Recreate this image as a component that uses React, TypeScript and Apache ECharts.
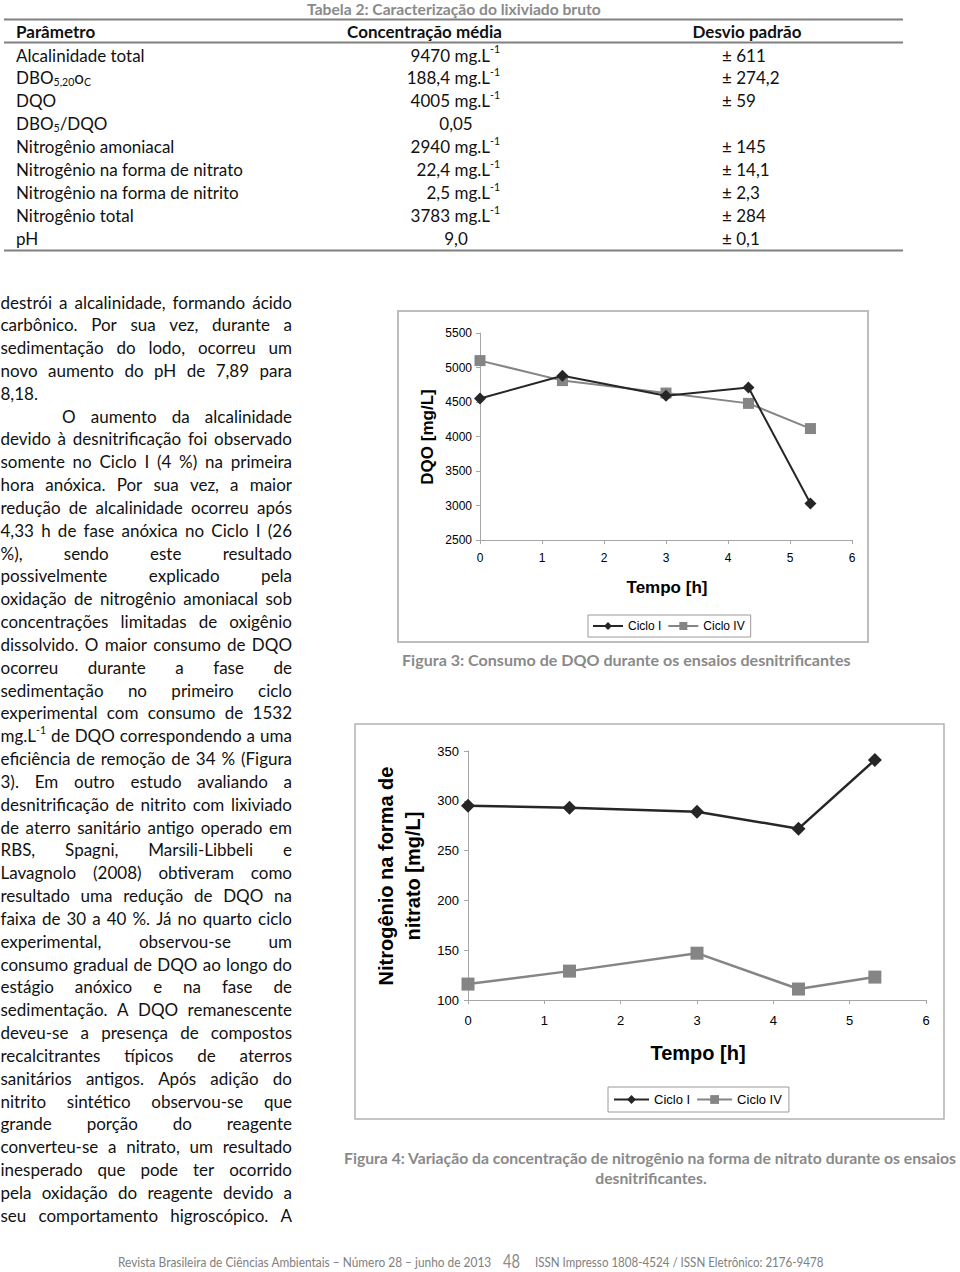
import React, { useEffect, useRef } from 'react';
import * as echarts from 'echarts';

// ---------------- DATA ----------------
const tempoH = [0, 1.33, 3, 4.33, 5.33];
const dqoCicloI = [4550, 4880, 4590, 4710, 3030];
const dqoCicloIV = [5100, 4810, 4630, 4480, 4115];
const nitratoCicloI = [295, 293, 289, 272, 341];
const nitratoCicloIV = [116, 129, 147, 111, 123];
const seriesNames = ['Ciclo I', 'Ciclo IV'];

const tableTitle = 'Tabela 2: Caracterização do lixiviado bruto';
const tableHeader = ['Parâmetro', 'Concentração média', 'Desvio padrão'];
const tableParams = [
  'Alcalinidade total',
  'DBO_{5,20}o_{C}',
  'DQO',
  'DBO_{5}/DQO',
  'Nitrogênio amoniacal',
  'Nitrogênio na forma de nitrato',
  'Nitrogênio na forma de nitrito',
  'Nitrogênio total',
  'pH',
];
const tableConc = ['9470', '188,4', '4005', '0,05', '2940', '22,4', '2,5', '3783', '9,0'];
const tableUnit = ['mg.L^{-1}', 'mg.L^{-1}', 'mg.L^{-1}', '', 'mg.L^{-1}', 'mg.L^{-1}', 'mg.L^{-1}', 'mg.L^{-1}', ''];
const tableDesvio = ['± 611', '± 274,2', '± 59', '', '± 145', '± 14,1', '± 2,3', '± 284', '± 0,1'];

const bodyLines = [
  'destrói a alcalinidade, formando ácido',
  'carbônico. Por sua vez, durante a',
  'sedimentação do lodo, ocorreu um',
  'novo aumento do pH de 7,89 para',
  '8,18.',
  'O aumento da alcalinidade',
  'devido à desnitrificação foi observado',
  'somente no Ciclo I (4 %) na primeira',
  'hora anóxica. Por sua vez, a maior',
  'redução de alcalinidade ocorreu após',
  '4,33 h de fase anóxica no Ciclo I (26',
  '%), sendo este resultado',
  'possivelmente explicado pela',
  'oxidação de nitrogênio amoniacal sob',
  'concentrações limitadas de oxigênio',
  'dissolvido. O maior consumo de DQO',
  'ocorreu durante a fase de',
  'sedimentação no primeiro ciclo',
  'experimental com consumo de 1532',
  'mg.L^{-1} de DQO correspondendo a uma',
  'eficiência de remoção de 34 % (Figura',
  '3). Em outro estudo avaliando a',
  'desnitrificação de nitrito com lixiviado',
  'de aterro sanitário antigo operado em',
  'RBS, Spagni, Marsili-Libbeli e',
  'Lavagnolo (2008) obtiveram como',
  'resultado uma redução de DQO na',
  'faixa de 30 a 40 %. Já no quarto ciclo',
  'experimental, observou-se um',
  'consumo gradual de DQO ao longo do',
  'estágio anóxico e na fase de',
  'sedimentação. A DQO remanescente',
  'deveu-se a presença de compostos',
  'recalcitrantes típicos de aterros',
  'sanitários antigos. Após adição do',
  'nitrito sintético observou-se que',
  'grande porção do reagente',
  'converteu-se a nitrato, um resultado',
  'inesperado que pode ter ocorrido',
  'pela oxidação do reagente devido a',
  'seu comportamento higroscópico. A',
];
const paragraphEnds = [4];
const paragraphStarts = [5];

const caption3 = 'Figura 3: Consumo de DQO durante os ensaios desnitrificantes';
const caption4a = 'Figura 4: Variação da concentração de nitrogênio na forma de nitrato durante os ensaios';
const caption4b = 'desnitrificantes.';
const dqoAxisName = 'DQO [mg/L]';
const nitratoAxisName = ['Nitrogênio na forma de', 'nitrato [mg/L]'];
const tempoAxisName = 'Tempo [h]';
const footerLeft = 'Revista Brasileira de Ciências Ambientais – Número 28 – junho de 2013';
const footerPage = '48';
const footerRight = 'ISSN Impresso 1808-4524 / ISSN Eletrônico: 2176-9478';

// ---------------- HELPERS ----------------
const BODY = 'Lato';
const ARIAL = '"Liberation Sans", Arial, sans-serif';
let _ctx: any = null;
function mw(text: string, font: string) {
  if (!_ctx) _ctx = document.createElement('canvas').getContext('2d');
  _ctx.font = font;
  return _ctx.measureText(text).width;
}
const fs = (size: number, fam: string, weight = 'normal') => `${weight} ${size}px ${fam}`;

function T(x: number, y: number, text: string, font: string, fill: string, align = 'left', extra: any = {}) {
  return {
    type: 'text',
    x,
    y,
    silent: true,
    ...extra,
    style: { text, font, fill, textAlign: align, textVerticalAlign: 'middle' },
  };
}

function parseRich(s: string) {
  const parts: { t: string; k: string }[] = [];
  const re = /([_^])\{([^}]*)\}/g;
  let last = 0;
  let m: any;
  while ((m = re.exec(s))) {
    if (m.index > last) parts.push({ t: s.slice(last, m.index), k: 'n' });
    parts.push({ t: m[2], k: m[1] === '_' ? 'sub' : 'sup' });
    last = re.lastIndex;
  }
  if (last < s.length) parts.push({ t: s.slice(last), k: 'n' });
  return parts;
}
const partSize = (k: string, size: number) => (k === 'n' ? size : size * 0.62);
function richW(parts: any[], size: number, fam: string, weight = 'normal') {
  return parts.reduce((a, p) => a + mw(p.t, fs(partSize(p.k, size), fam, weight)), 0);
}
function placeRich(els: any[], parts: any[], x: number, y: number, size: number, fam: string, weight: string, fill: string, s = 1) {
  let cx = x;
  for (const p of parts) {
    const f = fs(partSize(p.k, size), fam, weight);
    const dy = p.k === 'sup' ? -size * 0.33 : p.k === 'sub' ? size * 0.25 : 0;
    els.push(T(cx, y + dy, p.t, f, fill, 'left', s !== 1 ? { scaleX: s } : {}));
    cx += mw(p.t, f) * s;
  }
}
function fitText(els: any[], text: string, x0: number, x1: number, y: number, font: string, fill: string) {
  const w = mw(text, font);
  const s = Math.max(0.75, Math.min(1.3, (x1 - x0) / w));
  els.push(T(x0, y, text, font, fill, 'left', { scaleX: s }));
  return s;
}

function buildGraphics() {
  const els: any[] = [];
  const ink = '#111111';
  const gray = '#8a8a8a';

  // ---- Table ----
  fitText(els, tableTitle, 307, 601, 9, fs(15, BODY, 'bold'), gray);
  const ruleColor = '#808080';
  [19.5, 42.5, 250.5].forEach((y) =>
    els.push({ type: 'line', silent: true, shape: { x1: 4, y1: y, x2: 903, y2: y }, style: { stroke: ruleColor, lineWidth: 2 } })
  );
  const tSize = 17;
  const hFont = fs(tSize, BODY, 'bold');
  els.push(T(16, 31, tableHeader[0], hFont, ink, 'left'));
  els.push(T(424.5, 31, tableHeader[1], hFont, ink, 'center'));
  els.push(T(747, 31, tableHeader[2], hFont, ink, 'center'));
  tableParams.forEach((p, i) => {
    const y = 55 + i * 22.9;
    placeRich(els, parseRich(p), 16, y, tSize, BODY, 'normal', ink);
    const unit = tableUnit[i];
    if (unit) {
      const parts = parseRich(tableConc[i] + ' ' + unit);
      const w = richW(parts, tSize, BODY);
      placeRich(els, parts, 500 - w, y, tSize, BODY, 'normal', ink);
    } else {
      els.push(T(456, y, tableConc[i], fs(tSize, BODY), ink, 'center'));
    }
    if (tableDesvio[i]) els.push(T(722, y, tableDesvio[i], fs(tSize, BODY), ink, 'left'));
  });

  // ---- Body text (justified) ----
  const bSize = 17;
  const bFont = fs(bSize, BODY);
  const spaceW = mw(' ', bFont);
  bodyLines.forEach((line, i) => {
    const y = 302 + i * 22.83;
    const x0 = paragraphStarts.includes(i) ? 62 : 0.5;
    const x1 = 292;
    const justify = !paragraphEnds.includes(i);
    const words = line.split(' ').map(parseRich);
    const ws = words.map((w) => richW(w, bSize, BODY));
    const sum = ws.reduce((a, b) => a + b, 0);
    const n = words.length;
    const avail = x1 - x0;
    let s = 1;
    let gap = spaceW;
    if (justify && n > 1) {
      const minGap = spaceW * 0.75;
      if (sum + (n - 1) * minGap > avail) s = (avail - (n - 1) * minGap) / sum;
      gap = (avail - s * sum) / (n - 1);
    }
    let x = x0;
    words.forEach((w, j) => {
      placeRich(els, w, x, y, bSize, BODY, 'normal', ink, s);
      x += ws[j] * s + gap;
    });
  });

  // ---- Chart frames ----
  els.push({ type: 'rect', silent: true, shape: { x: 398, y: 311, width: 470, height: 331 }, style: { fill: 'none', stroke: '#bdbdbd', lineWidth: 2 } });
  els.push({ type: 'rect', silent: true, shape: { x: 355, y: 724, width: 589, height: 395 }, style: { fill: 'none', stroke: '#b3b3b3', lineWidth: 1.5 } });

  // ---- Axis names ----
  els.push(T(427, 437, dqoAxisName, fs(17, ARIAL, 'bold'), '#000', 'center', { rotation: Math.PI / 2 }));
  els.push(T(667, 587, tempoAxisName, fs(17, ARIAL, 'bold'), '#000', 'center'));
  els.push(T(386, 876, nitratoAxisName[0], fs(20, ARIAL, 'bold'), '#000', 'center', { rotation: Math.PI / 2 }));
  els.push(T(413, 876, nitratoAxisName[1], fs(20, ARIAL, 'bold'), '#000', 'center', { rotation: Math.PI / 2 }));
  els.push(T(698, 1053, tempoAxisName, fs(20, ARIAL, 'bold'), '#000', 'center'));

  // ---- Captions ----
  fitText(els, caption3, 402, 851, 660, fs(15, BODY, 'bold'), gray);
  const s4 = fitText(els, caption4a, 344, 957, 1158, fs(15, BODY, 'bold'), gray);
  const w4b = mw(caption4b, fs(15, BODY, 'bold')) * s4;
  els.push(T(651 - w4b / 2, 1178, caption4b, fs(15, BODY, 'bold'), gray, 'left', { scaleX: s4 }));

  // ---- Footer ----
  fitText(els, footerLeft, 118, 492, 1262, fs(13, BODY), '#808080');
  fitText(els, footerPage, 503, 520, 1261, fs(19, BODY), '#8c8c8c');
  fitText(els, footerRight, 535, 824, 1262, fs(13, BODY), '#808080');

  return els;
}

function pairs(xs: number[], ys: number[]) {
  return xs.map((x, i) => [x, ys[i]]);
}

function buildOption() {
  const axisColor = '#a6a6a6';
  const plain = (v: number) => String(v);
  const xAxisBase = (grid: number, fontSize: number, margin: number) => ({
    gridIndex: grid,
    type: 'value',
    min: 0,
    max: 6,
    interval: 1,
    axisLine: { show: true, onZero: false, lineStyle: { color: axisColor, width: 1 } },
    axisTick: { show: true, length: 4, lineStyle: { color: axisColor } },
    axisLabel: { color: '#000', fontSize, fontFamily: ARIAL, margin, formatter: plain },
    splitLine: { show: false },
  });
  const yAxisBase = (grid: number, min: number, max: number, interval: number, fontSize: number, margin: number) => ({
    gridIndex: grid,
    type: 'value',
    min,
    max,
    interval,
    axisLine: { show: true, onZero: false, lineStyle: { color: axisColor, width: 1 } },
    axisTick: { show: true, length: 4, lineStyle: { color: axisColor } },
    axisLabel: { color: '#000', fontSize, fontFamily: ARIAL, margin, formatter: plain },
    splitLine: { show: false },
  });
  const dark = '#262626';
  const light = '#858585';
  const lineSeries = (name: string, xi: number, data: any[], symbol: string, size: number, color: string, width: number) => ({
    name,
    type: 'line',
    xAxisIndex: xi,
    yAxisIndex: xi,
    data,
    symbol,
    symbolSize: size,
    showAllSymbol: true,
    lineStyle: { color, width },
    itemStyle: { color },
    emphasis: { disabled: true },
    z: name === seriesNames[0] ? 3 : 2,
  });
  return {
    animation: false,
    backgroundColor: '#ffffff',
    grid: [
      { left: 480, top: 333, width: 372, height: 207 },
      { left: 468, top: 751, width: 458, height: 249 },
    ],
    xAxis: [xAxisBase(0, 12, 12), xAxisBase(1, 13, 14)],
    yAxis: [yAxisBase(0, 2500, 5500, 500, 12, 8), yAxisBase(1, 100, 350, 50, 13, 9)],
    legend: [
      {
        left: 588,
        top: 615,
        padding: [5, 6, 5, 4],
        itemGap: 6,
        itemWidth: 30,
        itemHeight: 10,
        borderColor: '#9a9a9a',
        borderWidth: 1,
        selectedMode: false,
        data: seriesNames,
        textStyle: { fontSize: 12, fontFamily: ARIAL, color: '#000' },
      },
      {
        left: 608,
        top: 1087,
        padding: [6, 7, 6, 5],
        itemGap: 6,
        itemWidth: 35,
        itemHeight: 11,
        borderColor: '#9a9a9a',
        borderWidth: 1,
        selectedMode: false,
        data: seriesNames,
        textStyle: { fontSize: 13, fontFamily: ARIAL, color: '#000' },
      },
    ],
    series: [
      lineSeries(seriesNames[1], 0, pairs(tempoH, dqoCicloIV), 'rect', 11, light, 2),
      lineSeries(seriesNames[0], 0, pairs(tempoH, dqoCicloI), 'diamond', 12, dark, 2),
      lineSeries(seriesNames[1], 1, pairs(tempoH, nitratoCicloIV), 'rect', 13, light, 2.5),
      lineSeries(seriesNames[0], 1, pairs(tempoH, nitratoCicloI), 'diamond', 14, dark, 2.5),
    ],
    graphic: { elements: buildGraphics() },
  };
}

export default function App() {
  const ref = useRef<HTMLDivElement>(null);
  useEffect(() => {
    if (!ref.current) return;
    const chart = echarts.init(ref.current, null, { renderer: 'svg' });
    chart.setOption(buildOption() as any);
    return () => chart.dispose();
  }, []);
  return (
    <div
      ref={ref}
      style={{ position: 'absolute', left: 0, top: 0, width: 960, height: 1272, background: '#fff' }}
    />
  );
}
